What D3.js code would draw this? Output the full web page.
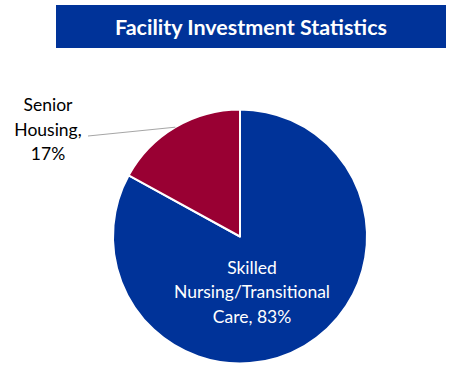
<!DOCTYPE html>
<html>
<head>
<meta charset="utf-8">
<script src="https://cdn.jsdelivr.net/npm/d3@7"></script>
<style>
  body { margin: 0; background: #fff; }
  text { font-family: Lato, "Open Sans", sans-serif; }
</style>
</head>
<body>
<div class="chart"></div>
<script>
var width = 461;
var height = 372;

var title = "Facility Investment Statistics";
var categories = ["Skilled Nursing/Transitional Care", "Senior Housing"];
var values = [83, 17];
var colors = ["#003399", "#990033"];
var labelLines = [
    ["Skilled", "Nursing/Transitional", "Care, 83%"],
    ["Senior", "Housing,", "17%"]
];

var cx = 240, cy = 236.5, radius = 127;

function build_svg( c ){
    return c.append("svg").attr("width", width).attr("height", height);
}

function build_title( s ){
    s.append("rect")
        .attr("x", 56).attr("y", 5)
        .attr("width", 390).attr("height", 43)
        .attr("fill", "#003399");
    s.append("text")
        .attr("x", 251).attr("y", 27)
        .attr("dy", ".35em")
        .attr("text-anchor", "middle")
        .attr("fill", "#fff")
        .attr("font-weight", "bold")
        .attr("font-size", 21.5)
        .text(title);
}

function build_pie( s ){
    var pie = d3.pie().sort(null).value(function(d){ return d; });
    var arc = d3.arc().innerRadius(0).outerRadius(radius);
    var arcs = pie(values);

    var g = s.append("g").attr("transform", "translate(" + cx + "," + cy + ")");
    g.selectAll("path")
        .data(arcs)
        .enter().append("path")
        .attr("d", arc)
        .attr("fill", function(d, i){ return colors[i]; })
        .attr("stroke", "#fff")
        .attr("stroke-width", 2)
        .attr("stroke-linejoin", "round");

    // inside label for the big slice
    var inner = g.append("text")
        .attr("text-anchor", "middle")
        .attr("fill", "#fff")
        .attr("font-size", 17.5);
    labelLines[0].forEach(function(t, i){
        inner.append("tspan").attr("x", 12).attr("y", 31 + i * 24.5).attr("dy", ".35em").text(t);
    });

    // outside label for the small slice, leader line from the slice edge
    var a = arcs[1];
    var mid = (a.startAngle + a.endAngle) / 2;
    var lx = Math.sin(mid) * radius, ly = -Math.cos(mid) * radius;
    g.append("line")
        .attr("x1", lx).attr("y1", ly)
        .attr("x2", 88 - cx).attr("y2", 136 - cy)
        .attr("stroke", "#a6a6a6")
        .attr("stroke-width", 1);

    var outer = s.append("text")
        .attr("text-anchor", "middle")
        .attr("fill", "#000")
        .attr("font-size", 17.5);
    labelLines[1].forEach(function(t, i){
        outer.append("tspan").attr("x", 48).attr("y", 105 + i * 24.5).attr("dy", ".35em").text(t);
    });
}

function main(){
    var svg = build_svg(d3.select(".chart"));
    build_title(svg);
    build_pie(svg);
}

main();
</script>
</body>
</html>
